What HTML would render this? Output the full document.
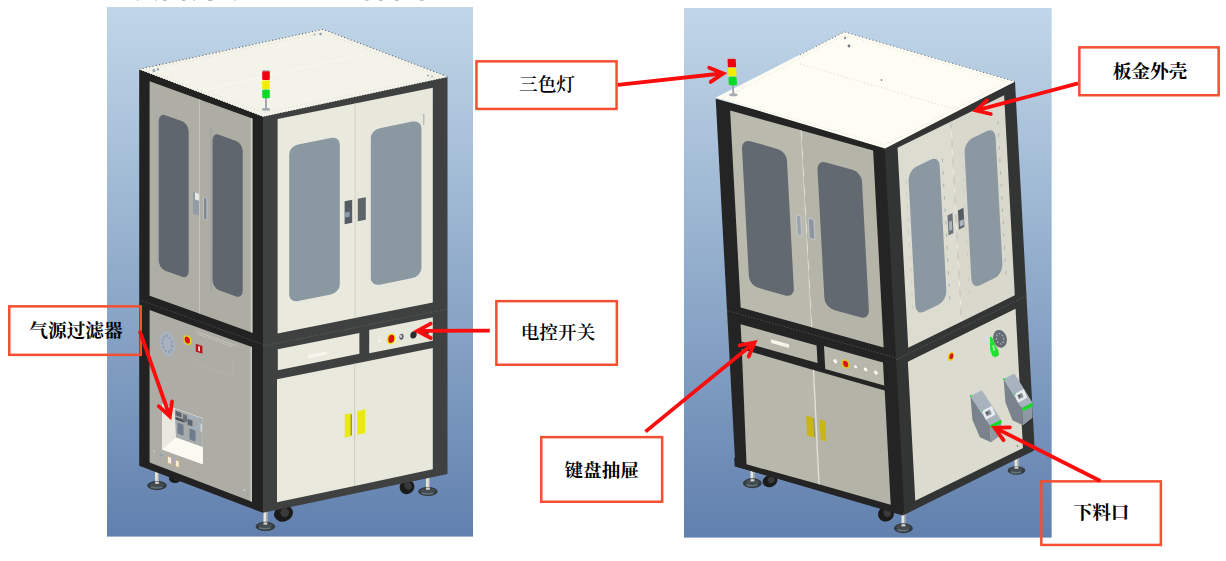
<!DOCTYPE html>
<html lang="zh"><head><meta charset="utf-8"><title>设备外观</title>
<style>
html,body{margin:0;padding:0;background:#fff;}
body{width:1226px;height:561px;overflow:hidden;position:relative;font-family:"Liberation Serif","Noto Serif CJK SC",serif;}
svg{position:absolute;left:0;top:0;display:block}
.lbl{font-family:"Liberation Serif","Noto Serif CJK SC",serif;font-size:18.67px;fill:#000;}
</style></head><body>
<svg width="1226" height="561" viewBox="0 0 1226 561">
<defs>
<linearGradient id="bg" x1="0" y1="0" x2="0" y2="1">
<stop offset="0" stop-color="#c1d6e8"/><stop offset="0.5" stop-color="#91accb"/><stop offset="1" stop-color="#6180ae"/>
</linearGradient>
<clipPath id="clipA"><rect x="107" y="7" width="366" height="529.8"/></clipPath>
<clipPath id="clipB"><rect x="683.8" y="8" width="368" height="529.8"/></clipPath>
</defs>

<g fill="#b0b0b0">
<rect x="137" y="0" width="1.2" height="0.8"/>
<rect x="155.5" y="0" width="1.2" height="0.8"/>
<rect x="163" y="0" width="3.5" height="0.8"/>
<rect x="182" y="0" width="3.5" height="0.8"/>
<rect x="193.6" y="0" width="1.2" height="0.8"/>
<rect x="208" y="0" width="4.5" height="0.8"/>
<rect x="234.6" y="0" width="1.2" height="0.8"/>
<rect x="365.5" y="0" width="3" height="0.8"/>
<rect x="379" y="0" width="3.5" height="0.8"/>
<rect x="395" y="0" width="3.5" height="0.8"/>
<rect x="420" y="0" width="3.5" height="0.8"/>
</g>
<g clip-path="url(#clipA)">
<rect x="107" y="7" width="366" height="529.8" fill="url(#bg)"/>
<rect x="155.1" y="470" width="3.8" height="14.600000000000023" fill="#e6e6de"/>
<rect x="157.7" y="470" width="1.2" height="14.600000000000023" fill="#a4a6a4"/>
<ellipse cx="157" cy="485.6" rx="9.8" ry="4.6" fill="#343a3f"/>
<ellipse cx="156.5" cy="487.1" rx="6.0760000000000005" ry="1.656" fill="#62757b"/>
<ellipse cx="157" cy="484.70000000000005" rx="7.252000000000001" ry="2.53" fill="#444b51"/>
<rect x="155.1" y="481.6" width="3.8" height="2.2" fill="#d5d6d0"/>
<rect x="426.0" y="475" width="3.8" height="15.5" fill="#e6e6de"/>
<rect x="428.59999999999997" y="475" width="1.2" height="15.5" fill="#a4a6a4"/>
<ellipse cx="427.9" cy="491.5" rx="9.8" ry="4.6" fill="#343a3f"/>
<ellipse cx="427.4" cy="493.0" rx="6.0760000000000005" ry="1.656" fill="#62757b"/>
<ellipse cx="427.9" cy="490.6" rx="7.252000000000001" ry="2.53" fill="#444b51"/>
<rect x="426.0" y="487.5" width="3.8" height="2.2" fill="#d5d6d0"/>
<ellipse cx="407" cy="487" rx="7.5" ry="7" fill="#1b1b1b" transform="rotate(-30 407 487)"/>
<ellipse cx="408.5" cy="486.5" rx="3.375" ry="3.8500000000000005" fill="#3a3a3a" transform="rotate(-30 407 487)"/>
<ellipse cx="175" cy="478.5" rx="6" ry="4.5" fill="#1b1b1b" transform="rotate(0 175 478.5)"/>
<ellipse cx="176.5" cy="478.0" rx="2.7" ry="2.475" fill="#3a3a3a" transform="rotate(0 175 478.5)"/>
<ellipse cx="283.5" cy="513.5" rx="9.6" ry="8" fill="#1b1b1b" transform="rotate(-20 283.5 513.5)"/>
<ellipse cx="285.0" cy="513.0" rx="4.32" ry="4.4" fill="#3a3a3a" transform="rotate(-20 283.5 513.5)"/>
<rect x="263.5" y="508" width="3.8" height="17.399999999999977" fill="#e6e6de"/>
<rect x="266.09999999999997" y="508" width="1.2" height="17.399999999999977" fill="#a4a6a4"/>
<ellipse cx="265.4" cy="526.4" rx="9.8" ry="4.6" fill="#343a3f"/>
<ellipse cx="264.9" cy="527.9" rx="6.0760000000000005" ry="1.656" fill="#62757b"/>
<ellipse cx="265.4" cy="525.5" rx="7.252000000000001" ry="2.53" fill="#444b51"/>
<rect x="263.5" y="522.4" width="3.8" height="2.2" fill="#d5d6d0"/>
<polygon points="260,119 266,119 266,512 260,512" fill="#2e2f2f"/>
<g transform="matrix(1,0.362,0,1,0,-95.206)">
<polygon points="139.2,113.5 263,113.5 263,512.8 139.2,510.6" fill="#222222"/>
<rect x="149.6" y="122.3" width="51" height="214.4" fill="#aeaea5"/>
<rect x="200.4" y="122.3" width="52" height="214.4" fill="#adada4"/>
<rect x="199.4" y="122.3" width="1" height="214.4" fill="#d0d0c5"/>
<rect x="156.6" y="146" width="0.8" height="165" fill="#a3a9ae"/><rect x="210.6" y="146" width="0.9" height="165" fill="#939ca6"/>
<rect x="250.8" y="122.3" width="1.6" height="214.4" fill="#cfcfc6"/>
<rect x="158.7" y="150.6" width="30" height="155.5" rx="6.5" ry="8" fill="#5f666e"/>
<rect x="212.5" y="150.6" width="30.2" height="155.5" rx="6.5" ry="8" fill="#5f666e"/>
<rect x="193" y="217" width="6" height="22" fill="#929ca8"/>
<rect x="195" y="217" width="4" height="7" fill="#e6e8e6"/>
<rect x="203.5" y="218.5" width="3.4" height="22" rx="1.2" fill="#7d8692" stroke="#c9ccd0" stroke-width="0.7"/>
<line x1="139.2" y1="344.5" x2="263" y2="344.5" stroke="#4c4c4c" stroke-width="0.8" stroke-dasharray="1.5 1.5"/>
<polygon points="149.6,351 252,351 252,505.8 149.6,503.5" fill="#adada5"/>
<rect x="250.6" y="351" width="1.4" height="154.8" fill="#c9c9c0"/>
<ellipse cx="167.3" cy="378.5" rx="8" ry="12.5" fill="#a7b3c4" opacity="0.8"/>
<ellipse cx="167.3" cy="378.5" rx="4.8" ry="8" fill="none" stroke="#8c9bb2" stroke-width="2" stroke-dasharray="2 1.6"/>
<ellipse cx="187.5" cy="367.5" rx="4" ry="4.8" fill="#e6d418"/>
<ellipse cx="187.3" cy="367.5" rx="2.7" ry="3.3" fill="#d8141a"/>
<rect x="195.8" y="368" width="6.6" height="7.8" fill="#b8121a"/>
<rect x="198.2" y="369.5" width="1.8" height="4.8" fill="#f1d9d9"/>
<line x1="196.5" y1="355.6" x2="235.5" y2="355.6" stroke="#dcdcd4" stroke-width="0.9" stroke-dasharray="1 0.8"/><line x1="198" y1="357.8" x2="233" y2="357.8" stroke="#cfcfc6" stroke-width="0.8" stroke-dasharray="1.5 1"/>
<polyline points="195.7,388 233,388 233,369" fill="none" stroke="#c3c5c1" stroke-width="0.6" stroke-dasharray="1 1.5"/>
<rect x="162" y="440" width="40.8" height="46" fill="#f2f2e8"/>
<rect x="174.5" y="440.5" width="28.3" height="28.5" fill="#a8abab"/>
<polygon points="162,486 176,469 202.8,469 202.8,486" fill="#fafaf0"/>
<polygon points="162,440 174.5,440.5 176,469 162,486" fill="#e9e9df"/>
<g>
<rect x="175.5" y="442.5" width="6" height="4.5" fill="#5c636b"/><rect x="175.5" y="448.5" width="9" height="2.6" fill="#4c5258"/>
<rect x="183" y="443" width="4" height="7" fill="#69717a"/>
<ellipse cx="194" cy="447.5" rx="5" ry="5.5" fill="none" stroke="#9fb2c8" stroke-width="1.8"/>
<rect x="187.5" y="446" width="5" height="6" fill="#5c6672"/>
<rect x="177.5" y="453.5" width="6" height="11" rx="1" fill="#6d7b8c"/><rect x="189.5" y="455" width="6" height="11" rx="1" fill="#6d7b8c"/>
<rect x="200.6" y="446" width="1.2" height="8" fill="#dfe3e6"/>
</g>
<rect x="167.5" y="490.5" width="4" height="7" fill="#f4f1e2" stroke="#c9a64a" stroke-width="0.6"/>
<rect x="175.5" y="491.5" width="3.6" height="6.5" fill="#f4f1e2" stroke="#c9a64a" stroke-width="0.6"/>
<rect x="160" y="491" width="2.6" height="2" fill="#8fa0b8"/>
<rect x="153.5" y="490" width="1.2" height="1.6" fill="#ddd"/>
<rect x="243.6" y="496" width="1.4" height="1.6" fill="#d8d8d0"/><rect x="247" y="499.5" width="1.3" height="1.6" fill="#8fa0b8"/>
</g>
<g transform="matrix(1,-0.2,0,1,0,52.6)">
<polygon points="263,113.5 447.5,113.5 447.5,510.9 263,512.8" fill="#3f4141"/>
<rect x="277.6" y="121.8" width="77.4" height="214.7" fill="#e9e9de"/>
<rect x="355" y="121.8" width="77.8" height="214.7" fill="#e7e7dc"/>
<rect x="354.6" y="121.8" width="1" height="214.7" fill="#d2d2c8"/>
<rect x="289.2" y="151.5" width="50.6" height="156.5" rx="9" ry="8" fill="#8a98a2"/>
<rect x="370.8" y="151.5" width="50.6" height="156.5" rx="9" ry="8" fill="#8a98a2"/>
<rect x="344.6" y="217.5" width="7.6" height="23" fill="#565c63"/>
<rect x="345" y="229" width="4.6" height="5" fill="#8d9aa8"/>
<rect x="357.8" y="217.8" width="8" height="22.4" fill="#5d646c"/>
<rect x="423.2" y="146" width="1.2" height="11" fill="#aab2ba"/>
<line x1="263" y1="346" x2="447.5" y2="346" stroke="#5e605e" stroke-width="0.8" stroke-dasharray="1.5 1.5"/>
<rect x="277.8" y="352.3" width="81.6" height="20.8" fill="#e9e9de"/>
<rect x="308" y="364" width="19" height="3.4" fill="#f7f7f0"/>
<rect x="369.2" y="351.3" width="63.6" height="23.3" fill="#e7e7dc"/>
<circle cx="379.5" cy="364" r="1.2" fill="#fbfbf5"/>
<ellipse cx="391" cy="364.5" rx="4.4" ry="5.4" fill="#f2e808"/>
<ellipse cx="391.3" cy="364.5" rx="3" ry="4" fill="#d6141a"/>
<ellipse cx="401.5" cy="364.5" rx="2.2" ry="3" fill="#5a5f66"/>
<ellipse cx="401" cy="364" rx="1" ry="1.6" fill="#d5d8dc"/>
<ellipse cx="413.5" cy="365" rx="3.2" ry="3.6" fill="#2a2c30"/>
<ellipse cx="426" cy="365.5" rx="2.8" ry="3.4" fill="#3a3c40"/>
<polygon points="277,382 354.6,382 354.6,504.2 277,505.1" fill="#e8e8dd"/>
<polygon points="354.6,382 432.8,382 432.8,503.2 354.6,504.2" fill="#e7e7dc"/>
<rect x="354.2" y="382" width="1" height="122" fill="#d4d4ca"/>
<rect x="344.7" y="430.8" width="7.2" height="23" fill="#ece814"/>
<rect x="350.6" y="432" width="1.3" height="21" fill="#8d8d57"/>
<rect x="357.2" y="430" width="7.8" height="23.6" fill="#ece814"/>
</g>
<polygon points="139.2,69.2 323,29.3 447.5,76.7 263,116.4" fill="#f3f3e9"/>
<polyline points="139.2,69.2 323,29.3 447.5,76.7" fill="none" stroke="#5d5f60" stroke-width="1.1" stroke-dasharray="1 2.4" />
<polyline points="139.2,69.2 263,116.4 447.5,76.7" fill="none" stroke="#fbfbf3" stroke-width="1" stroke-dasharray="1.4 1.4" />
<polygon points="145.5,70 322.5,32.6 440,76.6 263.5,112.5" fill="none" stroke="#d6d6cc" stroke-width="0.8" stroke-dasharray="1 3" />
<circle cx="154" cy="70.5" r="1.6" fill="#9aa6b4"/><circle cx="158" cy="69.3" r="1.1" fill="#8693a2"/><circle cx="320.5" cy="34" r="1.2" fill="#8d98a6"/><circle cx="314.5" cy="34.6" r="1" fill="#9aa4b0"/><circle cx="428" cy="75.5" r="1" fill="#9aa4b0"/><circle cx="432" cy="76.5" r="1" fill="#a4adb8"/>
<line x1="203" y1="90.5" x2="366" y2="53.5" stroke="#fdfdf8" stroke-width="1" stroke-dasharray="2 1.5"/>
<g transform="matrix(1,0,0,1,0.0,0)">
<rect x="265.1" y="97.6" width="1.8" height="11.700000000000003" fill="#98a1ab"/>
<ellipse cx="266" cy="109.3" rx="4.2" ry="1.5" fill="#a3abb5"/>
<rect x="262.5" y="69.89999999999999" width="7.0" height="1.8" fill="#b9bcc2"/>
<rect x="262.2" y="71.3" width="7.6" height="8.6" rx="0.8" fill="#ec0410"/>
<rect x="262.2" y="80.39999999999999" width="7.6" height="8.6" rx="0.8" fill="#f4ec00"/>
<rect x="262.2" y="89.5" width="7.6" height="8.799999999999999" rx="1.5" fill="#06dc28"/>
</g>
</g>
<g clip-path="url(#clipB)">
<rect x="683.8" y="8" width="368" height="529.8" fill="url(#bg)"/>
<rect x="750.5" y="468" width="3.8" height="14.199999999999989" fill="#e6e6de"/>
<rect x="753.1" y="468" width="1.2" height="14.199999999999989" fill="#a4a6a4"/>
<ellipse cx="752.4" cy="483.2" rx="9.4" ry="5" fill="#343a3f"/>
<ellipse cx="751.9" cy="484.7" rx="5.828" ry="1.7999999999999998" fill="#62757b"/>
<ellipse cx="752.4" cy="482.3" rx="6.956" ry="2.75" fill="#444b51"/>
<rect x="750.5" y="479.2" width="3.8" height="2.2" fill="#d5d6d0"/>
<ellipse cx="770" cy="481" rx="7.5" ry="6" fill="#1b1b1b" transform="rotate(-20 770 481)"/>
<ellipse cx="771.5" cy="480.5" rx="3.375" ry="3.3000000000000003" fill="#3a3a3a" transform="rotate(-20 770 481)"/>
<rect x="1014.6" y="456" width="3.8" height="13.5" fill="#e6e6de"/>
<rect x="1017.2" y="456" width="1.2" height="13.5" fill="#a4a6a4"/>
<ellipse cx="1016.5" cy="470.5" rx="8.8" ry="4.2" fill="#343a3f"/>
<ellipse cx="1016.0" cy="472.0" rx="5.456" ry="1.512" fill="#62757b"/>
<ellipse cx="1016.5" cy="469.6" rx="6.5120000000000005" ry="2.3100000000000005" fill="#444b51"/>
<rect x="1014.6" y="466.5" width="3.8" height="2.2" fill="#d5d6d0"/>
<ellipse cx="886" cy="514" rx="8" ry="7.5" fill="#1b1b1b" transform="rotate(-25 886 514)"/>
<ellipse cx="887.5" cy="513.5" rx="3.6" ry="4.125" fill="#3a3a3a" transform="rotate(-25 886 514)"/>
<rect x="901.5" y="512" width="3.8" height="15.200000000000045" fill="#e6e6de"/>
<rect x="904.1" y="512" width="1.2" height="15.200000000000045" fill="#a4a6a4"/>
<ellipse cx="903.4" cy="528.2" rx="9.4" ry="5" fill="#343a3f"/>
<ellipse cx="902.9" cy="529.7" rx="5.828" ry="1.7999999999999998" fill="#62757b"/>
<ellipse cx="903.4" cy="527.3000000000001" rx="6.956" ry="2.75" fill="#444b51"/>
<rect x="901.5" y="524.2" width="3.8" height="2.2" fill="#d5d6d0"/>
<polygon points="880.5,151 889.5,151 909,512 900,512" fill="#2b2c2c"/>
<g transform="matrix(1,0.279,0.0535,1,884.7,145.8)">
<rect x="-169" y="0" width="169" height="367.8" fill="#242424"/>
<rect x="-155" y="8" width="71" height="197" fill="#bab9ad"/>
<rect x="-83.5" y="8" width="71.5" height="197" fill="#b5b4a8"/>
<rect x="-84.5" y="8" width="1.2" height="197" fill="#deded6"/>
<rect x="-145" y="33.5" width="45" height="146.5" rx="9" ry="9" fill="#626970"/>
<rect x="-69.5" y="33.5" width="44.5" height="147.5" rx="9" ry="9" fill="#626970"/>
<rect x="-93.5" y="95" width="4.4" height="20" fill="#9aa3ad" stroke="#d0d4d8" stroke-width="0.6"/>
<rect x="-81.5" y="95" width="5.5" height="20" fill="#8d96a0" stroke="#d0d4d8" stroke-width="0.6"/>
<line x1="-169" y1="212" x2="0" y2="212" stroke="#505050" stroke-width="0.8" stroke-dasharray="1.5 1.5"/>
<rect x="-156" y="222" width="76" height="17.5" fill="#b8b7ab"/>
<rect x="-126" y="228.5" width="18" height="3.8" fill="#f4f4ec"/>
<rect x="-72.5" y="220.5" width="59" height="23" fill="#b8b7ab"/>
<rect x="-63.5" y="231" width="3.4" height="3.4" fill="#fafaf4" transform="rotate(45 -61.8 232.7)"/>
<ellipse cx="-51.5" cy="232.5" rx="4" ry="4.6" fill="#dcc812"/><ellipse cx="-51.5" cy="232.5" rx="2.7" ry="3.1" fill="#e0141a"/>
<circle cx="-41.5" cy="232.5" r="1.5" fill="#fafaf4"/><circle cx="-31.5" cy="232.5" r="1.8" fill="#fafaf4"/><rect x="-23" y="231" width="3.4" height="3.4" fill="#fafaf4" transform="rotate(45 -21.3 232.7)"/>
</g>
<polygon points="734.2,458 734.7,466.3 902.9,515.4 904.4,506" fill="#242424"/>
<polygon points="741.8,349.2 813.4,369.9 818.9,484.3 746.5,464.3" fill="#b8b7ab"/>
<polygon points="813.4,369.9 884.7,390.5 890.7,504.8 818.9,484.3" fill="#b4b3a7"/>
<polygon points="812.8,369.7 814.2,370.1 819.7,484.5 818.3,484.1" fill="#e2e2da"/>
<g transform="matrix(1,0.288,0.0535,1,884.7,146.6)">
<rect x="-94.5" y="296" width="7" height="20" fill="#c9b615"/>
<rect x="-81" y="296" width="5.6" height="20.5" fill="#c9b615"/>
<rect x="-87.4" y="297" width="1" height="18" fill="#8d8d68"/>
</g>
<g transform="matrix(1,-0.491,0.0535,1,884.7,145.8)">
<rect x="0" y="0" width="130.3" height="367.8" fill="#333434"/>
<rect x="12.4" y="8" width="53" height="200" fill="#dddcd0"/>
<rect x="66" y="8" width="53" height="200" fill="#d9d8cc"/>
<rect x="65.2" y="8" width="1" height="200" fill="#f0f0e8"/>
<rect x="21.5" y="35.5" width="31" height="145" rx="8" ry="10" fill="#8b97a1"/>
<rect x="77.5" y="34.5" width="31" height="147" rx="8" ry="10" fill="#8b97a1"/>
<g stroke="#a7afb8" stroke-width="0.9" stroke-dasharray="3.5 9" fill="none"><line x1="55.5" y1="40" x2="55.5" y2="185"/><line x1="111.5" y1="30" x2="111.5" y2="190"/><line x1="19" y1="44" x2="19" y2="180" stroke="#c3c8cc"/><line x1="75" y1="44" x2="75" y2="185" stroke="#c3c8cc"/></g>
<rect x="57.5" y="98" width="5" height="20" fill="#6c737a"/><rect x="58.5" y="105" width="3" height="9" fill="#a9b4c0"/>
<rect x="68" y="98" width="5.5" height="19" fill="#565c63"/><rect x="69" y="109" width="4" height="6" fill="#a9b4c0"/>
<line x1="0" y1="214" x2="130.3" y2="214" stroke="#5a5a5a" stroke-width="0.8" stroke-dasharray="1.5 1.5"/>
<rect x="11.3" y="221.5" width="107.7" height="140.5" fill="#dcdbcf"/>
<ellipse cx="53.5" cy="237" rx="3" ry="4.2" fill="#e6d010"/><ellipse cx="54" cy="237" rx="2" ry="2.8" fill="#d5141a"/>
</g>
<polygon points="904.4,506 902.9,515.4 1033.8,450.8 1033.4,443" fill="#333434"/>
<polygon points="715.3,97.8 844.4,31.9 1015,81.6 885,148.4" fill="#fdfdf3"/>
<polyline points="800,54.9 844.4,31.9 1015,81.6" fill="none" stroke="#66686a" stroke-width="1" stroke-dasharray="1 2.6"/>
<polygon points="722.5,98.8 844.6,35 1007,81.8 885,145" fill="none" stroke="#d2d2c8" stroke-width="0.7" stroke-dasharray="1 2.2"/>
<line x1="800" y1="64" x2="957" y2="109.7" stroke="#dadad0" stroke-width="0.8" stroke-dasharray="1.5 2"/>
<circle cx="849" cy="46" r="1.4" fill="#70757c"/><circle cx="845" cy="38" r="1.2" fill="#8a8f96"/><circle cx="881.5" cy="80" r="0.9" fill="#8a8f96"/>
<polygon points="970.4,396.0 989.9,425.2 991.1,442.2 979.9,437.2 972.4,419.7" fill="#7a838d"/>
<polygon points="970.4,396.0 981.9,390.3 1001.1,419.7 989.9,425.2" fill="#a9b3be"/>
<polygon points="989.9,425.2 1001.1,419.7 1001.1,434.7 991.1,442.2" fill="#8f99a4"/>
<polygon points="981.9,411.0 991.9,406.0 995.4,414.7 985.7,419.7" fill="#e9edef"/>
<polygon points="984.9,412.1 989.9,409.6 991.7,413.9 986.7,416.5" fill="#8a939c"/>
<polygon points="985.9,412.5 987.9,411.5 988.7,413.5 986.7,414.5" fill="#4f565e"/>
<polygon points="989.9,425.2 1001.1,419.7 1001.8,422.9 990.7,428.5" fill="#12e024"/>
<circle cx="970.8" cy="396.1" r="1" fill="#12e024"/>
<circle cx="982.4" cy="410.8" r="0.8" fill="#12e024"/>
<polygon points="1003.6,379.1 1021.9,408.3 1023.1,425.3 1012.5,420.3 1005.5,402.8" fill="#7a838d"/>
<polygon points="1003.6,379.1 1014.4,373.4 1032.5,402.8 1021.9,408.3" fill="#a9b3be"/>
<polygon points="1021.9,408.3 1032.5,402.8 1032.5,417.8 1023.1,425.3" fill="#8f99a4"/>
<polygon points="1014.4,394.1 1023.8,389.1 1027.1,397.8 1018.0,402.8" fill="#e9edef"/>
<polygon points="1017.2,395.2 1021.9,392.7 1023.6,397.0 1018.9,399.6" fill="#8a939c"/>
<polygon points="1018.2,395.6 1020.1,394.6 1020.8,396.6 1018.9,397.6" fill="#4f565e"/>
<polygon points="1021.9,408.3 1032.5,402.8 1033.1,406.0 1022.7,411.6" fill="#12e024"/>
<circle cx="1004.0" cy="379.2" r="1" fill="#12e024"/>
<circle cx="1014.9" cy="393.9" r="0.8" fill="#12e024"/>
<ellipse cx="1000" cy="338.8" rx="6.8" ry="9" fill="#636a72" transform="rotate(-15 1000 338.8)"/>
<ellipse cx="1000" cy="338.8" rx="3.6" ry="5.2" fill="none" stroke="#aeb3b8" stroke-width="1.3" stroke-dasharray="1.6 1.8" transform="rotate(-15 1000 338.8)"/>
<path d="M990 336.5 l2.2 1 l2.8 7 l3.2 5.5 l1 5 l-3.5 2.2 l-3.4 -1.2 l-2.3 -7 z" fill="#22e030"/>
<path d="M992.5 345 l1.6 0.4 l0.8 5 l-1.6 0.6 z" fill="#d8dccf"/>
<circle cx="1017.5" cy="446" r="0.8" fill="#666"/>
<g transform="matrix(1,0,0.05,1,-4.74,0)">
<rect x="732.5" y="84.6" width="1.8" height="10.200000000000003" fill="#98a1ab"/>
<ellipse cx="733.4" cy="94.8" rx="4.2" ry="1.5" fill="#a3abb5"/>
<rect x="729.5999999999999" y="57.5" width="7.6" height="1.8" fill="#b9bcc2"/>
<rect x="729.3" y="58.9" width="8.2" height="8.4" rx="0.8" fill="#ec0410"/>
<rect x="729.3" y="67.8" width="8.2" height="8.4" rx="0.8" fill="#f4ec00"/>
<rect x="729.3" y="76.7" width="8.2" height="8.6" rx="1.5" fill="#06dc28"/>
</g>
</g>
<rect x="476.45" y="61.35" width="140.10" height="47.60" fill="#fff" stroke="#f54f32" stroke-width="2.5"/>
<text class="lbl" x="547" y="91.3" text-anchor="middle" font-weight="600">三色灯</text>
<g stroke="#fb0d0d" stroke-width="3.8" fill="none" stroke-linecap="butt" stroke-linejoin="miter">
<line x1="617.8" y1="84.8" x2="721.7" y2="73.5"/>
<polyline points="709.2,67.7 723.3,73.4 710.7,81.9" stroke-linecap="round" stroke-miterlimit="10"/>
</g>
<rect x="1079.35" y="47.35" width="139.30" height="47.90" fill="#fff" stroke="#f54f32" stroke-width="2.5"/>
<text class="lbl" x="1150" y="78.3" text-anchor="middle" font-weight="700">板金外壳</text>
<g stroke="#fb0d0d" stroke-width="3.8" fill="none" stroke-linecap="butt" stroke-linejoin="miter">
<line x1="1078.0" y1="83.4" x2="977.5" y2="110.1"/>
<polyline points="990.8,114.0 976.0,110.5 987.2,100.2" stroke-linecap="round" stroke-miterlimit="10"/>
</g>
<rect x="9.25" y="306.35" width="131.50" height="48.50" fill="none" stroke="#f54f32" stroke-width="2.5"/>
<text class="lbl" x="76" y="336.6" text-anchor="middle" font-weight="700">气源过滤器</text>
<g stroke="#fb0d0d" stroke-width="3.8" fill="none" stroke-linecap="butt" stroke-linejoin="miter">
<line x1="139.7" y1="330.8" x2="169.3" y2="415.0"/>
<polyline points="172.1,401.4 169.9,416.4 158.7,406.2" stroke-linecap="round" stroke-miterlimit="10"/>
</g>
<rect x="496.35" y="301.15" width="120.50" height="63.60" fill="#fff" stroke="#f54f32" stroke-width="2.5"/>
<text class="lbl" x="558" y="338.6" text-anchor="middle" font-weight="600">电控开关</text>
<g stroke="#fb0d0d" stroke-width="3.8" fill="none" stroke-linecap="butt" stroke-linejoin="miter">
<line x1="489.8" y1="330.6" x2="418.9" y2="330.9"/>
<polyline points="430.8,338.0 417.3,330.9 430.7,323.7" stroke-linecap="round" stroke-miterlimit="10"/>
</g>
<rect x="541.25" y="437.15" width="120.90" height="64.60" fill="#fff" stroke="#f54f32" stroke-width="2.5"/>
<text class="lbl" x="601.7" y="476.6" text-anchor="middle" font-weight="700">键盘抽屉</text>
<g stroke="#fb0d0d" stroke-width="3.8" fill="none" stroke-linecap="butt" stroke-linejoin="miter">
<line x1="645.5" y1="431.6" x2="753.3" y2="343.5"/>
<polyline points="739.6,345.4 754.5,342.5 748.7,356.5" stroke-linecap="round" stroke-miterlimit="10"/>
</g>
<rect x="1041.35" y="481.35" width="119.50" height="63.60" fill="none" stroke="#f54f32" stroke-width="2.5"/>
<text class="lbl" x="1101.5" y="519.2" text-anchor="middle" font-weight="700">下料口</text>
<g stroke="#fb0d0d" stroke-width="3.8" fill="none" stroke-linecap="butt" stroke-linejoin="miter">
<line x1="1100.4" y1="481.0" x2="996.1" y2="428.4"/>
<polyline points="1003.5,440.2 994.7,427.8 1009.9,427.4" stroke-linecap="round" stroke-miterlimit="10"/>
</g>
</svg></body></html>
